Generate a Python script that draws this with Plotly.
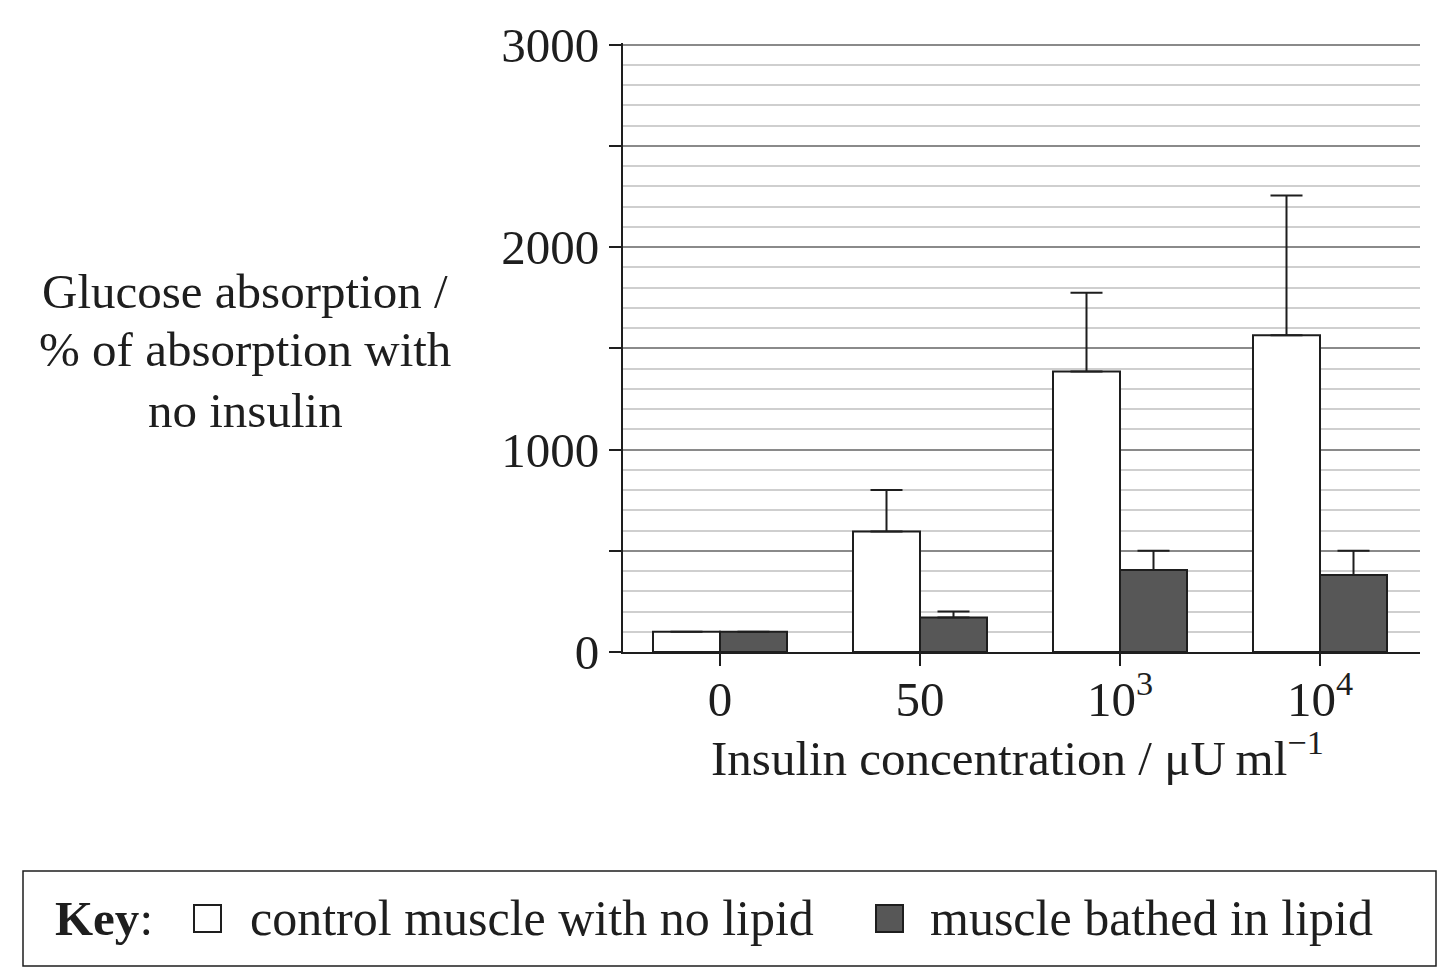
import plotly.graph_objects as go

# ---------------- data ----------------
categories = ["0", "50", "10<sup>3</sup>", "10<sup>4</sup>"]
series_names = ["control muscle with no lipid", "muscle bathed in lipid"]
control_values = [100, 595, 1385, 1565]
control_err_up = [0, 205, 390, 690]
lipid_values = [100, 170, 405, 380]
lipid_err_up = [0, 30, 95, 120]

y_title_lines = ["Glucose absorption /", "% of absorption with", "no insulin"]
x_title = "Insulin concentration / \u03bcU\u2009ml<sup>\u22121</sup>"

# ---------------- layout helpers ----------------
W, H = 1455, 980
L, R, T, B = 623, 35, 43, 328
PW, PH = W - L - R, H - T - B
FONT = "Liberation Serif"
FS = 49
INK = "#1e1e1e"


def px(x):
    return (x - L) / PW


def py(y):
    return (H - B - y) / PH


xpos = list(range(len(categories)))

fig = go.Figure()
fig.add_trace(go.Bar(
    x=xpos, y=control_values, name=series_names[0],
    marker=dict(color="white", line=dict(color=INK, width=2)),
    error_y=dict(type="data", array=control_err_up,
                 arrayminus=[0] * len(control_err_up), symmetric=False,
                 color=INK, thickness=2, width=16),
))
fig.add_trace(go.Bar(
    x=xpos, y=lipid_values, name=series_names[1],
    marker=dict(color="#575757", line=dict(color=INK, width=2)),
    error_y=dict(type="data", array=lipid_err_up,
                 arrayminus=[0] * len(lipid_err_up), symmetric=False,
                 color=INK, thickness=2, width=16),
))

fig.update_layout(
    width=W, height=H,
    margin=dict(l=L, r=R, t=T, b=B, pad=0),
    paper_bgcolor="white", plot_bgcolor="white",
    barmode="group", bargap=0.33, bargroupgap=0,
    showlegend=False,
    font=dict(family=FONT, size=FS, color=INK),
    xaxis=dict(
        range=[-0.485, 3.5], tickmode="array", tickvals=xpos, ticktext=categories,
        ticks="outside", ticklen=12, tickwidth=2, tickcolor=INK,
        showline=True, linecolor=INK, linewidth=2,
        showgrid=False, zeroline=False,
        tickfont=dict(family=FONT, size=FS, color=INK),
        ticklabelstandoff=-9,
    ),
    yaxis=dict(
        range=[0, 3008], tickmode="linear", tick0=0, dtick=500, ticklabelstep=2,
        ticks="outside", ticklen=12, tickwidth=2, tickcolor=INK,
        showline=True, linecolor=INK, linewidth=2,
        showgrid=True, gridcolor="#8a8a8a", gridwidth=1.5,
        zeroline=False,
        minor=dict(dtick=100, showgrid=True, gridcolor="#cfcfcf", gridwidth=1.5, ticks=""),
        tickfont=dict(family=FONT, size=FS, color=INK),
        ticklabelstandoff=0,
    ),
)

# y-axis title as three centred lines
for line, yc in zip(y_title_lines, [291, 350, 410]):
    fig.add_annotation(
        x=px(245), y=py(yc), xref="paper", yref="paper",
        text=line, showarrow=False,
        xanchor="center", yanchor="middle", align="center",
        font=dict(family=FONT, size=FS, color=INK),
    )

# x-axis title
fig.add_annotation(
    x=px(1017), y=py(754), xref="paper", yref="paper",
    text=x_title, showarrow=False, xanchor="center", yanchor="middle",
    font=dict(family=FONT, size=FS, color=INK),
)

# key box
fig.add_shape(type="rect", xref="paper", yref="paper",
              x0=px(23), x1=px(1436), y0=py(966), y1=py(871),
              line=dict(color=INK, width=1.5), fillcolor="white")
fig.add_shape(type="rect", xref="paper", yref="paper",
              x0=px(194), x1=px(221), y0=py(932), y1=py(905),
              line=dict(color=INK, width=2), fillcolor="white")
fig.add_shape(type="rect", xref="paper", yref="paper",
              x0=px(876), x1=px(903), y0=py(932), y1=py(905),
              line=dict(color=INK, width=2), fillcolor="#575757")
fig.add_annotation(x=px(53), y=py(918), xref="paper", yref="paper",
                   text="<b>Key</b>:", showarrow=False, xanchor="left", yanchor="middle",
                   font=dict(family=FONT, size=FS, color=INK))
fig.add_annotation(x=px(248), y=py(918), xref="paper", yref="paper",
                   text=series_names[0], showarrow=False, xanchor="left", yanchor="middle",
                   font=dict(family=FONT, size=FS + 1, color=INK))
fig.add_annotation(x=px(928), y=py(918), xref="paper", yref="paper",
                   text=series_names[1], showarrow=False, xanchor="left", yanchor="middle",
                   font=dict(family=FONT, size=FS + 1, color=INK))

fig.write_html("out.html")
